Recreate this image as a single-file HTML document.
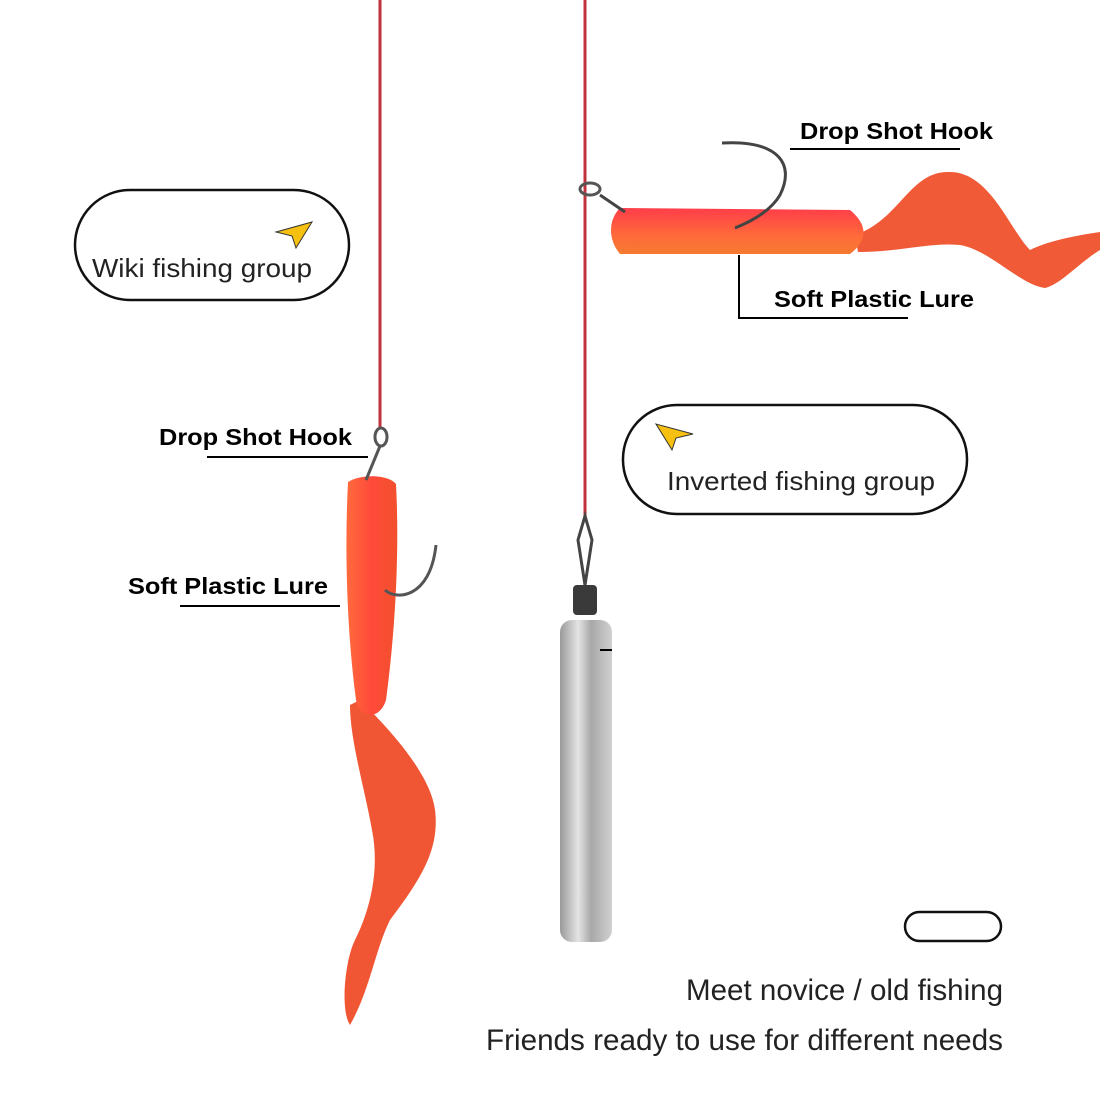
<!DOCTYPE html>
<html><head><meta charset="utf-8"><style>
body{margin:0;background:#fff;width:1100px;height:1100px;overflow:hidden}
svg{display:block}
text{font-family:"Liberation Sans",Arial,sans-serif}
</style></head><body>
<svg width="1100" height="1100" viewBox="0 0 1100 1100">
<defs>
<linearGradient id="sink" x1="0" x2="1"><stop offset="0" stop-color="#9a9a9a"/><stop offset="0.35" stop-color="#e4e4e4"/><stop offset="0.6" stop-color="#a8a8a8"/><stop offset="1" stop-color="#d0d0d0"/></linearGradient>
<linearGradient id="lureV" x1="0" x2="1"><stop offset="0" stop-color="#ff6a3c"/><stop offset="0.5" stop-color="#ff4a3a"/><stop offset="1" stop-color="#f2502c"/></linearGradient>
<linearGradient id="lureH" x1="0" y1="0" x2="0" y2="1"><stop offset="0" stop-color="#ff3d4a"/><stop offset="0.6" stop-color="#ff6a3a"/><stop offset="1" stop-color="#f57a30"/></linearGradient>
</defs>
<line x1="380" y1="0" x2="380" y2="428" stroke="#c0323c" stroke-width="3"/>
<line x1="585" y1="0" x2="585" y2="520" stroke="#c0323c" stroke-width="3"/>

<rect x="75" y="190" width="274" height="110" rx="55" fill="#fff" stroke="#111" stroke-width="2.5"/>
<text x="92" y="277" font-size="26" fill="#222" textLength="220" lengthAdjust="spacingAndGlyphs">Wiki fishing group</text>
<polygon points="276,232 312,222 296,248 292,236" fill="#f5c010" stroke="#333" stroke-width="1"/>

<rect x="623" y="405" width="344" height="109" rx="54" fill="#fff" stroke="#111" stroke-width="2.5"/>
<text x="667" y="490" font-size="26" fill="#222" textLength="268" lengthAdjust="spacingAndGlyphs">Inverted fishing group</text>
<polygon points="693,434 656,424 672,450 676,438" fill="#f5c010" stroke="#333" stroke-width="1"/>

<rect x="905" y="912" width="96" height="29" rx="14.5" fill="#fff" stroke="#111" stroke-width="2.5"/>
<text x="686" y="1000" font-size="30" fill="#222" textLength="317" lengthAdjust="spacingAndGlyphs">Meet novice / old fishing</text>
<text x="486" y="1050" font-size="30" fill="#222" textLength="517" lengthAdjust="spacingAndGlyphs">Friends ready to use for different needs</text>

<text x="800" y="139" font-size="23" font-weight="bold" fill="#000" textLength="193" lengthAdjust="spacingAndGlyphs">Drop Shot Hook</text>
<line x1="790" y1="149" x2="960" y2="149" stroke="#000" stroke-width="2"/>
<text x="774" y="307" font-size="23" font-weight="bold" fill="#000" textLength="200" lengthAdjust="spacingAndGlyphs">Soft Plastic Lure</text>
<polyline points="739,255 739,318 908,318" fill="none" stroke="#000" stroke-width="2"/>

<text x="159" y="445" font-size="23" font-weight="bold" fill="#000" textLength="193" lengthAdjust="spacingAndGlyphs">Drop Shot Hook</text>
<line x1="207" y1="457" x2="368" y2="457" stroke="#000" stroke-width="2"/>
<text x="128" y="594" font-size="23" font-weight="bold" fill="#000" textLength="200" lengthAdjust="spacingAndGlyphs">Soft Plastic Lure</text>
<line x1="180" y1="606" x2="340" y2="606" stroke="#000" stroke-width="2"/>

<!-- right lure -->
<path d="M855,235 C900,220 910,170 950,172 C990,172 1010,230 1030,250 C1050,240 1080,235 1100,232 L1100,250 C1080,262 1060,285 1045,288 C1020,285 990,250 960,245 C930,242 900,252 858,252 Z" fill="#f05a36"/>
<path d="M620,208 L850,210 C868,225 868,240 850,254 L620,254 C608,240 608,220 620,208 Z" fill="url(#lureH)"/>
<path d="M722,143 C780,140 795,165 780,195 C770,212 750,222 735,228" fill="none" stroke="#444" stroke-width="3"/>
<path d="M600,195 L625,212" fill="none" stroke="#444" stroke-width="3"/>
<ellipse cx="590" cy="189" rx="10" ry="6" fill="none" stroke="#555" stroke-width="3"/>

<!-- left lure -->
<path d="M360,700 C380,720 430,770 435,810 C440,850 420,880 390,920 C375,950 370,990 350,1025 C340,1010 345,960 355,940 C370,910 380,870 372,830 C365,790 350,740 350,705 Z" fill="#f05634"/>
<path d="M348,482 C360,474 388,474 396,484 C400,560 394,640 386,700 C380,720 360,720 356,700 C348,640 344,560 348,482 Z" fill="url(#lureV)"/>
<ellipse cx="381" cy="437" rx="6" ry="9" fill="none" stroke="#555" stroke-width="3"/>
<path d="M380,446 L366,480" fill="none" stroke="#555" stroke-width="3"/>
<path d="M385,590 C395,600 430,600 436,545" fill="none" stroke="#555" stroke-width="3"/>

<path d="M585,516 L578,540 L585,585 L592,540 Z" fill="none" stroke="#444" stroke-width="3"/>
<rect x="573" y="585" width="24" height="30" rx="4" fill="#3a3a3a"/>
<rect x="560" y="620" width="52" height="322" rx="12" fill="url(#sink)"/>
<line x1="600" y1="650" x2="612" y2="650" stroke="#000" stroke-width="2"/>
</svg>
</body></html>
